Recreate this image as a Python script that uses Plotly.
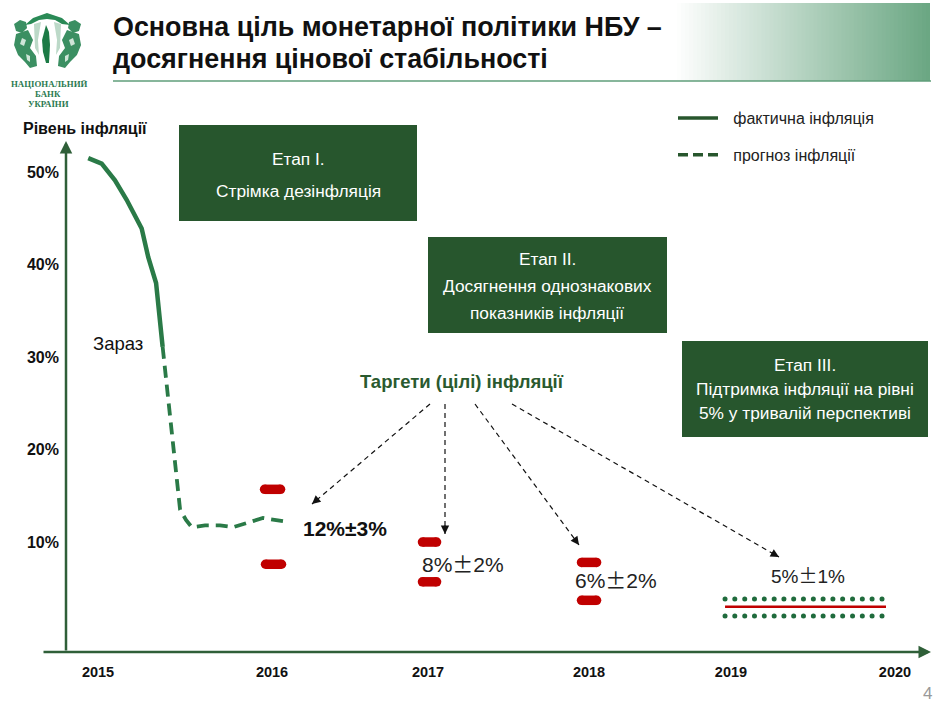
import plotly.graph_objects as go

W, H = 949, 709
FONT = "Liberation Sans"
DARK = "#27562d"
LINE = "#2a7a47"
RED = "#c00000"

# inflation (x in years, y in %)
actual_x = [2014.939, 2015.023, 2015.106, 2015.179, 2015.273, 2015.314, 2015.363, 2015.383, 2015.404]
actual_y = [51.5, 50.9, 49.1, 47.0, 43.9, 40.8, 38.0, 34.8, 31.1]
forecast_x = [2015.404, 2015.471, 2015.513, 2015.55, 2015.586, 2015.669, 2015.763, 2015.844, 2015.95, 2016.031, 2016.179]
forecast_y = [31.1, 19.9, 13.5, 12.4, 11.6, 11.8, 11.8, 11.6, 12.2, 12.6, 12.2]

# target corridors
band_start = [2016.041, 2016.047, 2017.028, 2017.028, 2018.022, 2018.022]
band_end = [2016.141, 2016.147, 2017.116, 2017.116, 2018.116, 2018.116]
band_value = [15.7, 7.6, 10.0, 5.7, 7.8, 3.7]
long_x = [2018.919, 2019.925]
long_target = [3.0, 3.0]
dots_x = [2018.919, 2018.980, 2019.042, 2019.103, 2019.164, 2019.226, 2019.287, 2019.348, 2019.409,
          2019.471, 2019.532, 2019.593, 2019.654, 2019.716, 2019.777, 2019.838, 2019.900]
dots_upper = [3.85] * 17
dots_lower = [2.0] * 17

year_pos = [2015, 2016.0875, 2017.0625, 2018.069, 2018.956, 2019.981]
year_labels = ["2015", "2016", "2017", "2018", "2019", "2020"]
level_vals = [10, 20, 30, 40, 50]
level_labels = ["10%", "20%", "30%", "40%", "50%"]


def px(x):
    return x / W


def py(y):
    return 1 - y / H


def note(x, y, text, size=14, color="#111111", anchor="left", bold=False, family=FONT):
    if bold:
        text = f"<b>{text}</b>"
    return dict(xref="paper", yref="paper", x=px(x), y=py(y), text=text, showarrow=False, borderpad=0, borderwidth=0,
                xanchor=anchor, yanchor="middle", font=dict(family=family, size=size, color=color))


def path_from(points):
    return "M" + " L".join(f"{px(a):.4f},{py(b):.4f}" for a, b in points) + " Z"


fig = go.Figure()

fig.add_trace(go.Scatter(x=actual_x, y=actual_y, mode="lines", showlegend=False, hoverinfo="skip",
                         line=dict(color=LINE, width=4.5)))
fig.add_trace(go.Scatter(x=forecast_x, y=forecast_y, mode="lines", showlegend=False, hoverinfo="skip",
                         line=dict(color=LINE, width=3.8, dash="12px,7px")))

for a, b, v in zip(band_start, band_end, band_value):
    fig.add_trace(go.Scatter(x=[a, b], y=[v, v], mode="lines+markers", showlegend=False, hoverinfo="skip",
                             line=dict(color=RED, width=9.5), marker=dict(color=RED, size=9.5)))

fig.add_trace(go.Scatter(x=long_x, y=long_target, mode="lines", showlegend=False, hoverinfo="skip",
                         line=dict(color=RED, width=2.5)))
for vals in (dots_upper, dots_lower):
    fig.add_trace(go.Scatter(x=dots_x, y=vals, mode="markers", showlegend=False, hoverinfo="skip",
                             marker=dict(color="#1f6b3c", size=5)))

# legend entries only, darker than the drawn lines
fig.add_trace(go.Scatter(x=[None], y=[None], mode="lines", name="\u00a0\u00a0\u200aфактична інфляція", legendgroup="a",
                         line=dict(color=DARK, width=3.5)))
fig.add_trace(go.Scatter(x=[None], y=[None], mode="lines", name="\u00a0\u00a0\u200aпрогноз інфляції", legendgroup="b",
                         line=dict(color=DARK, width=3.5, dash="10px,5px")))

shapes = []

# header gradient
strips = 64
for i in range(strips):
    t = i / (strips - 1)
    c = [round(255 + (e - 255) * t) for e in (107, 167, 131)]
    x_end = 673 + 257 * (i + 1) / strips
    shapes.append(dict(type="rect", xref="paper", yref="paper", layer="below", line_width=0,
                       x0=px(673 + 257 * i / strips), x1=px(min(x_end + 1, 930)),
                       y0=py(81), y1=py(3), fillcolor=f"rgb({c[0]},{c[1]},{c[2]})"))
shapes.append(dict(type="line", xref="paper", yref="paper", x0=px(113), x1=px(931), y0=py(81), y1=py(81),
                   line=dict(color="#5f9e7a", width=1.5)))

# stage boxes
for x0, y0, x1, y1 in [(179, 125, 417, 221), (428, 237, 667, 333), (682, 341, 928, 437)]:
    shapes.append(dict(type="rect", xref="paper", yref="paper", x0=px(x0), x1=px(x1), y0=py(y1), y1=py(y0),
                       fillcolor=DARK, line_width=0))

# rough logo: two figures, curtains, swag and the middle spindle
logo_left = [
    ("#3b8f62", [(14, 24), (20, 20), (26, 22), (27, 28), (22, 33), (16, 31)]),
    ("#3b8f62", [(16, 34), (28, 30), (33, 40), (30, 48), (36, 56), (37, 66), (30, 68), (25, 62), (18, 55), (14, 45)]),
    ("#cfe5d8", [(22, 38), (26, 40), (24, 46), (20, 44)]),
    ("#cfe5d8", [(26, 54), (30, 56), (30, 62), (27, 60)]),
    ("#bcd9c8", [(34, 24), (41, 22), (38, 40), (39, 55), (35, 48)]),
]
for color, part in logo_left:
    shapes.append(dict(type="path", xref="paper", yref="paper", path=path_from(part), fillcolor=color, line_width=0))
    mirrored = [(95 - a, b) for a, b in part]
    shapes.append(dict(type="path", xref="paper", yref="paper", path=path_from(mirrored), fillcolor=color, line_width=0))
shapes.append(dict(type="path", xref="paper", yref="paper", fillcolor="#1c7a45", line_width=0,
                   path=path_from([(46, 25), (42, 40), (43, 52), (46, 63), (49, 63), (50, 45), (49, 32)])))
shapes.append(dict(type="path", xref="paper", yref="paper", fillcolor="#2a8a56", line_width=0,
                   path=path_from([(25, 25), (33, 18), (47, 13), (62, 18), (70, 25), (62, 24), (55, 20), (47, 19), (39, 20), (31, 24)])))

# target arrows, dashed bodies
arrows = [(430, 404, 312, 504), (445, 404, 445, 534), (475, 404, 579, 545), (512, 404, 779, 557)]
for x0, y0, x1, y1 in arrows:
    shapes.append(dict(type="line", xref="paper", yref="paper", x0=px(x0), x1=px(x1), y0=py(y0), y1=py(y1),
                       line=dict(color="#111111", width=1.2, dash="5px,4px")))

annotations = []
for x0, y0, x1, y1 in arrows:
    size = ((x1 - x0) ** 2 + (y1 - y0) ** 2) ** 0.5
    annotations.append(dict(xref="paper", yref="paper", x=px(x1), y=py(y1), text="", showarrow=True,
                            axref="pixel", ayref="pixel", ax=-(x1 - x0) / size * 10, ay=-(y1 - y0) / size * 10,
                            arrowhead=2, arrowsize=1.4, arrowwidth=1.2, arrowcolor="#111111"))

# axis arrows
annotations.append(dict(xref="paper", yref="paper", x=px(66), y=py(141), text="", showarrow=True, axref="pixel",
                        ayref="pixel", ax=0, ay=511, arrowhead=2, arrowsize=1, arrowwidth=2.5, arrowcolor="#2f5f38"))
annotations.append(dict(xref="paper", yref="paper", x=px(931), y=py(652), text="", showarrow=True, axref="pixel",
                        ayref="pixel", ax=-889, ay=0, arrowhead=2, arrowsize=1, arrowwidth=2.5, arrowcolor="#2f5f38"))

# box texts
box_lines = [
    (298, 159, "Етап І."), (298, 191, "Стрімка дезінфляція"),
    (547, 259, "Етап ІІ."), (547, 286, "Досягнення однознакових"), (547, 313, "показників інфляції"),
    (805, 365, "Етап ІІІ."), (805, 389, "Підтримка інфляції на рівні"), (805, 413, "5% у тривалій перспективі"),
]
for x, y, text in box_lines:
    annotations.append(note(x, y, text, size=17.3, color="white", anchor="center"))

PM = '<span style="font-family:\'Noto Sans CJK SC\'">±</span>'
annotations += [
    note(113, 59, "досягнення цінової стабільності", 26.9, "#111111", bold=True),
    note(11, 84, "НАЦІОНАЛЬНИЙ", 8.8, "#2a7a50", bold=True, family="Liberation Serif"),
    note(48, 94, "БАНК", 8.8, "#2a7a50", "center", True, "Liberation Serif"),
    note(48, 104, "УКРАЇНИ", 8.8, "#2a7a50", "center", True, "Liberation Serif"),
    note(23, 129, "Рівень інфляції", 16, "#111111", bold=True),
    note(93, 343, "Зараз", 18.5),
    note(360, 381, "Таргети (цілі) інфляції", 18.5, "#2a5a2f", bold=True),
    note(303, 528, "12%±3%", 21, "#111111", bold=True),
    note(422, 563, f"8%{PM}2%", 21, "#222222"),
    note(575, 579, f"6%{PM}2%", 21, "#222222"),
    note(771, 574, f"5%{PM}1%", 19, "#222222"),
    note(923, 693, "4", 17, "#999999"),
]

fig.update_layout(
    width=W,
    height=H,
    margin=dict(l=0, r=0, t=0, b=0),
    paper_bgcolor="white",
    plot_bgcolor="rgba(0,0,0,0)",
    font=dict(family=FONT, color="#111111"),
    title=dict(text="<b>Основна ціль монетарної політики НБУ –</b>",
               x=113 / W, xanchor="left", y=1 - 27 / H, yanchor="middle",
               font=dict(family=FONT, size=26.9, color="#111111")),
    xaxis=dict(range=[2014.3875, 2020.31875], showgrid=False, zeroline=False, showline=False,
               tickvals=year_pos, ticktext=[f"<b>{t}</b>" for t in year_labels], tickfont=dict(size=14.5, family=FONT),
               ticks="", anchor="free", position=(H - 652) / H, ticklabelstandoff=9),
    yaxis=dict(range=[-8.05, 68.6], showgrid=False, zeroline=False, showline=False,
               tickvals=level_vals, ticktext=[f"<b>{t}</b>" for t in level_labels], tickfont=dict(size=16, family=FONT),
               ticks="", anchor="free", position=66 / W, ticklabelstandoff=7),
    legend=dict(x=673 / W, y=1 - 101 / H, xanchor="left", yanchor="top", traceorder="grouped", tracegroupgap=13,
                itemwidth=40, bgcolor="rgba(0,0,0,0)", font=dict(size=16, family=FONT, color="#222222")),
    shapes=shapes,
    annotations=annotations,
)

fig.write_html("out.html", config=dict(displayModeBar=False), post_script="document.body.style.margin='0';")
